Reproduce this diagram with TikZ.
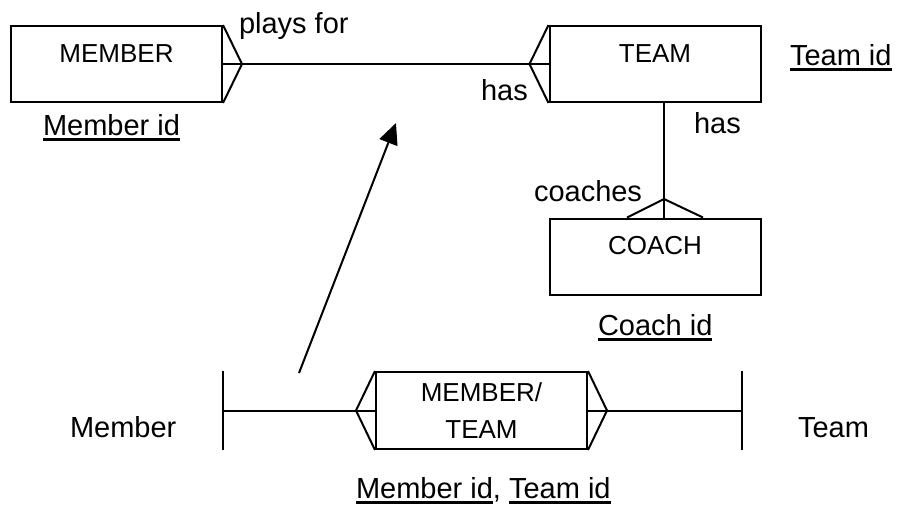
\documentclass[tikz,border=0pt]{standalone}
\usepackage{fontspec}
\setmainfont{Liberation Sans}
\usepackage{tikz}
\usetikzlibrary{positioning,arrows.meta}

\newcommand{\keyid}[1]{\setbox0\hbox{#1}\rlap{\copy0}\rule[-6pt]{\wd0}{3pt}}

\begin{document}
\begin{tikzpicture}[x=1pt,y=-1pt,line width=2pt,
  entity/.style={draw,minimum width=211pt,minimum height=76pt,inner sep=0pt,
    font=\fontsize{26}{30}\selectfont,text height=18.6pt,text depth=22pt},
  linkbox/.style={draw,minimum width=211pt,minimum height=77pt,inner sep=0pt,
    align=center,font=\fontsize{26}{37}\selectfont},
  lbl/.style={anchor=base west,inner sep=0pt,font=\fontsize{29}{34}\selectfont},
  endbar/.style={minimum height=77pt,minimum width=0pt,inner sep=0pt}]
  \useasboundingbox (0,0) rectangle (898,507);

  \node[entity]  (member)  at (116.5,64)   {MEMBER};
  \node[entity]  (team)    at (655,64)     {TEAM};
  \node[entity]  (coach)   at (655,256.5)  {COACH};
  \node[linkbox] (memteam) at (481.5,410.5) {MEMBER/\\TEAM};
  \node[endbar]  (memend)  at (223,410.5)  {};
  \node[endbar]  (teamend) at (742,410.5)  {};

  \coordinate[right=19pt of member.east] (membertip);
  \coordinate[left=19pt of team.west] (teamtip);
  \coordinate (coachtip) at (664,199);
  \coordinate[left=19pt of memteam.west] (mtleft);
  \coordinate[right=19pt of memteam.east] (mtright);

  \draw (member.north east) -- (membertip) -- (member.south east);
  \draw (team.north west) -- (teamtip) -- (team.south west);
  \draw ([xshift=-28pt]coach.north) -- (coachtip) -- ([xshift=48pt]coach.north);
  \draw (memteam.north west) -- (mtleft) -- (memteam.south west);
  \draw (memteam.north east) -- (mtright) -- (memteam.south east);

  \draw (member.east) -- (membertip) -- (teamtip) -- (team.west);
  \draw (team.south -| coachtip) -- (coach.north -| coachtip);
  \draw (memend.center) -- (mtleft) -- (memteam.west);
  \draw (memteam.east) -- (mtright) -- (teamend.center);
  \draw (memend.north) -- (memend.south);
  \draw (teamend.north) -- (teamend.south);

  \coordinate (arrowtail) at (299,373);
  \coordinate (arrowtip) at (396,123);
  \draw[-{Triangle[length=21pt,width=19pt]}] (arrowtail) -- (arrowtip);

  \node[lbl] (playsfor)  at (238,33)  {plays for};
  \node[lbl] (hasleft)   at (480,100) {has};
  \node[lbl] (hasdown)   at (693,133) {has};
  \node[lbl] (teamid)    at (789,65)  {\keyid{Team id}};
  \node[lbl] (memberid)  at (42,135)  {\keyid{Member id}};
  \node[lbl] (coaches)   at (533,201) {coaches};
  \node[lbl] (coachid)   at (597,335) {\keyid{Coach id}};
  \node[lbl] (memberlbl) at (69,437)  {Member};
  \node[lbl] (teamlbl)   at (797,437) {Team};
  \node[lbl] (mtid)      at (355,498) {\keyid{Member id}, \keyid{Team id}};
\end{tikzpicture}
\end{document}
